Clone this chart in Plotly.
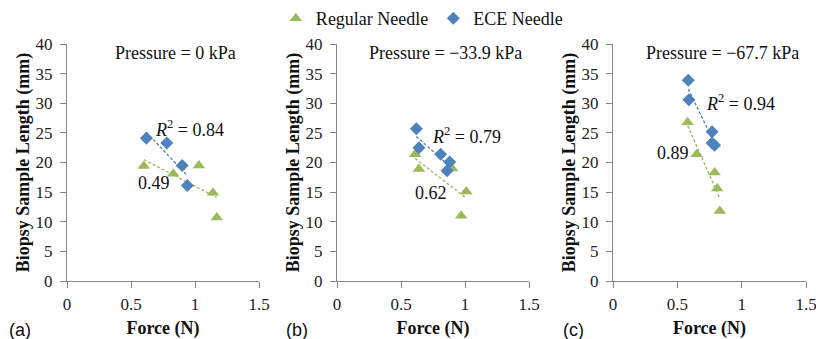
import numpy as np
import plotly.graph_objects as go

# ---- data ----
panels = ["a", "b", "c"]
pressure_labels = ["Pressure = 0 kPa", "Pressure = \u221233.9 kPa", "Pressure = \u221267.7 kPa"]

reg_force_a = [0.60, 0.83, 1.03, 1.14, 1.17]
reg_len_a = [19.4, 18.1, 19.5, 14.9, 10.7]
ece_force_a = [0.62, 0.78, 0.90, 0.94]
ece_len_a = [24.1, 23.3, 19.5, 16.1]

reg_force_b = [0.61, 0.64, 0.90, 1.01, 0.97]
reg_len_b = [21.4, 18.9, 19.0, 15.1, 11.0]
ece_force_b = [0.62, 0.64, 0.81, 0.88, 0.86]
ece_len_b = [25.7, 22.5, 21.4, 20.1, 18.6]

reg_force_c = [0.58, 0.65, 0.79, 0.81, 0.83]
reg_len_c = [26.8, 21.4, 18.3, 15.6, 11.8]
ece_force_c = [0.585, 0.59, 0.77, 0.77, 0.79]
ece_len_c = [33.9, 30.6, 25.2, 23.3, 22.9]

r2_ece = ["0.84", "0.79", "0.94"]
r2_reg = ["0.49", "0.62", "0.89"]

x_ticks = [0, 0.5, 1, 1.5]
x_tick_text = ["0", "0.5", "1", "1.5"]
y_ticks = [0, 5, 10, 15, 20, 25, 30, 35, 40]

GREEN = "#9BBB59"
BLUE = "#4F81BD"
AXIS = "#878787"
SERIF = "Liberation Serif"
SANS = "Liberation Sans"

reg_f = [reg_force_a, reg_force_b, reg_force_c]
reg_l = [reg_len_a, reg_len_b, reg_len_c]
ece_f = [ece_force_a, ece_force_b, ece_force_c]
ece_l = [ece_len_a, ece_len_b, ece_len_c]

W, H = 816, 339
x_dom = [(67 / W, 259 / W), (337 / W, 529 / W), (613 / W, 806 / W)]
y_dom = (1 - 281 / H, 1 - 44 / H)

# annotation positions (data coords)
r2_pos = [(0.67, 25.8), (0.73, 24.5), (0.71, 30.1)]
reg_pos = [(0.54, 16.5), (0.59, 14.9), (0.33, 21.6)]
label_x = [7 / W, 284 / W, 561 / W]

fig = go.Figure()

for i in range(3):
    xa = "x" if i == 0 else f"x{i+1}"
    ya = "y" if i == 0 else f"y{i+1}"
    # trendlines
    for fx, ly, col in [(reg_f[i], reg_l[i], GREEN), (ece_f[i], ece_l[i], BLUE)]:
        m, b = np.polyfit(fx, ly, 1)
        xs = np.array([min(fx), max(fx)])
        fig.add_trace(go.Scatter(x=xs, y=m * xs + b, mode="lines", xaxis=xa, yaxis=ya,
                                 line=dict(color=col, width=1.3, dash="3px,2px"),
                                 showlegend=False, hoverinfo="skip"))
    fig.add_trace(go.Scatter(x=reg_f[i], y=reg_l[i], mode="markers", xaxis=xa, yaxis=ya,
                             name="Regular Needle", showlegend=(i == 0),
                             marker=dict(symbol="triangle-up", size=11, color=GREEN)))
    fig.add_trace(go.Scatter(x=ece_f[i], y=ece_l[i], mode="markers", xaxis=xa, yaxis=ya,
                             name="ECE Needle", showlegend=(i == 0),
                             marker=dict(symbol="diamond", size=10, color=BLUE)))

    axis_common = dict(showline=True, linecolor=AXIS, linewidth=1.3, ticks="outside",
                       tickcolor=AXIS, ticklen=6, tickwidth=1.3, showgrid=False,
                       zeroline=False, automargin=False, ticklabeloverflow="allow",
                       tickfont=dict(family=SERIF, size=17, color="#222"))
    fig.update_layout(**{
        ("xaxis" if i == 0 else f"xaxis{i+1}"): dict(
            domain=list(x_dom[i]), anchor=ya, range=[0, 1.5], tickvals=x_ticks,
            ticktext=x_tick_text, ticklabelstandoff=1, **axis_common,
            title=dict(text="<b>Force (N)</b>", font=dict(family=SERIF, size=18, color="#111"),
                       standoff=12)),
        ("yaxis" if i == 0 else f"yaxis{i+1}"): dict(
            domain=list(y_dom), anchor=xa, range=[0, 40], tickvals=y_ticks,
            ticklabelstandoff=4, **axis_common,
            title=dict(text="<b>Biopsy Sample Length (mm)</b>",
                       font=dict(family=SERIF, size=18, color="#111"), standoff=1)),
    })

    fig.add_annotation(x=0.85, y=38.5, xref=xa, yref=ya, text=pressure_labels[i],
                       showarrow=False, font=dict(family=SERIF, size=18, color="#111"))
    fig.add_annotation(x=r2_pos[i][0], y=r2_pos[i][1], xref=xa, yref=ya, xanchor="left",
                       text=f"<i>R</i><sup>2</sup> = {r2_ece[i]}", showarrow=False,
                       font=dict(family=SERIF, size=18, color="#111"))
    fig.add_annotation(x=reg_pos[i][0], y=reg_pos[i][1], xref=xa, yref=ya, xanchor="left",
                       text=r2_reg[i], showarrow=False,
                       font=dict(family=SERIF, size=18, color="#111"))
    fig.add_annotation(x=label_x[i], y=1 - 330 / H, xref="paper", yref="paper",
                       xanchor="left", yanchor="middle", text=f"({panels[i]})", showarrow=False,
                       font=dict(family=SANS, size=18, color="#111"))

fig.update_layout(
    width=W, height=H, margin=dict(l=0, r=0, t=0, b=0),
    font=dict(family=SERIF, size=16, color="#111"),
    plot_bgcolor="white", paper_bgcolor="white",
    legend=dict(orientation="h", x=0.517, xanchor="center", y=1.0, yanchor="top",
                font=dict(family=SERIF, size=18, color="#111"), itemwidth=30,
                tracegroupgap=0, bgcolor="rgba(0,0,0,0)"),
)

fig.write_html("out.html")
